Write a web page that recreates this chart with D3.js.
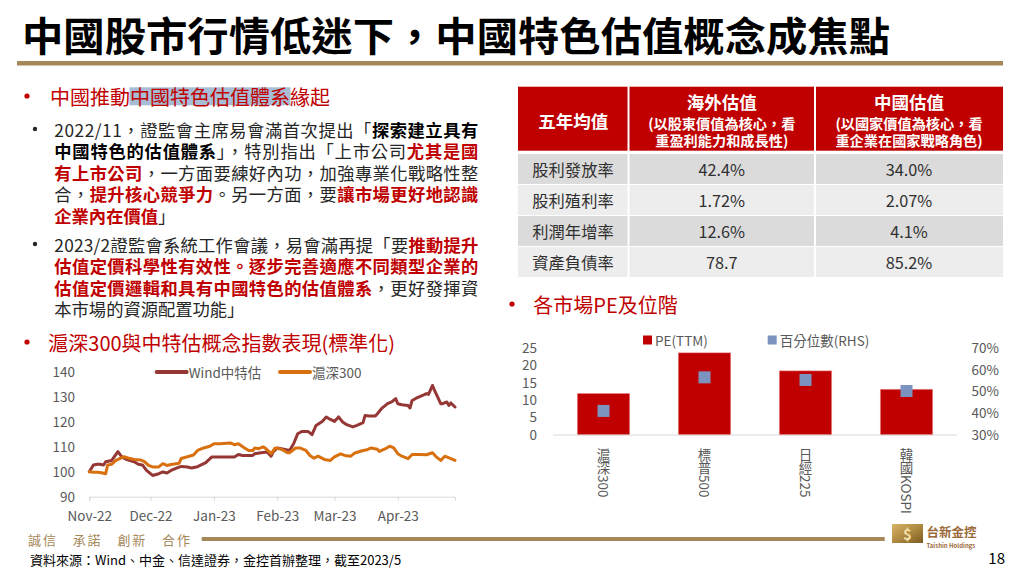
<!DOCTYPE html>
<html><head><meta charset="utf-8">
<script src="https://cdn.jsdelivr.net/npm/d3@7"></script>
<style>
body{margin:0;background:#fff}
svg{display:block}
text{font-family:"Noto Sans CJK TC","Noto Sans",sans-serif}
</style>
</head><body><svg id="c" width="1016" height="570"></svg>
<script>
// ---------------- DATA ----------------
const titleText = "中國股市行情低迷下，中國特色估值概念成焦點";

const windPoints = [
["2022-11-01",100],["2022-11-03",102.7],["2022-11-05",103],["2022-11-06",103],["2022-11-08",102.7],
["2022-11-09",104],["2022-11-12",104.5],["2022-11-15",108],["2022-11-17",105.8],["2022-11-19",105],
["2022-11-23",104],["2022-11-25",103],["2022-11-27",102.7],["2022-11-29",100.5],["2022-12-02",98.5],
["2022-12-05",99.2],["2022-12-07",99.9],["2022-12-09",99.5],["2022-12-11",100.5],["2022-12-14",101.5],
["2022-12-16",102.1],["2022-12-19",101.9],["2022-12-21",101.5],["2022-12-24",102],["2022-12-27",103.2],
["2022-12-28",103.6],["2022-12-31",105.9],["2023-01-02",105.9],["2023-01-06",105.9],["2023-01-11",105.9],
["2023-01-13",106.9],["2023-01-15",106.5],["2023-01-20",106.5],["2023-01-21",107.2],["2023-01-24",107.6],
["2023-01-27",107.9],["2023-01-29",106.2],["2023-01-30",107.9],["2023-02-01",109.5],["2023-02-03",109.2],
["2023-02-07",108.5],["2023-02-09",111.2],["2023-02-11",115.2],["2023-02-13",116.1],["2023-02-16",116.1],
["2023-02-18",114.8],["2023-02-20",118.5],["2023-02-23",120.1],["2023-02-25",121.9],["2023-02-27",120.9],
["2023-03-01",120.1],["2023-03-03",121.9],["2023-03-05",119.9],["2023-03-07",118.8],["2023-03-10",117.9],
["2023-03-12",118.5],["2023-03-15",119.6],["2023-03-16",122.5],["2023-03-18",122.3],["2023-03-21",122.3],
["2023-03-22",123.2],["2023-03-24",125.2],["2023-03-27",127.2],["2023-03-29",127.9],["2023-03-31",129.2],
["2023-04-01",127.2],["2023-04-03",126.8],["2023-04-06",126.5],["2023-04-07",125.5],["2023-04-08",128.5],
["2023-04-10",129.4],["2023-04-14",130.8],["2023-04-15",131.2],["2023-04-16",130.9],["2023-04-18",134.5],
["2023-04-19",132.5],["2023-04-22",127.2],["2023-04-23",127.2],["2023-04-25",127.9],["2023-04-26",126.5],
["2023-04-27",127.5],["2023-04-29",125.9]];

const hs300Points = [
["2022-11-01",100],["2022-11-03",99.8],["2022-11-05",99.8],["2022-11-07",99.6],["2022-11-09",99.2],
["2022-11-10",102.7],["2022-11-12",103],["2022-11-14",104.5],["2022-11-18",106],["2022-11-20",105.5],
["2022-11-23",104.9],["2022-11-26",104.7],["2022-11-28",104],["2022-11-30",102.5],["2022-12-02",101.9],
["2022-12-05",101.9],["2022-12-07",103.2],["2022-12-09",102.5],["2022-12-11",102.9],["2022-12-15",103.4],
["2022-12-16",105.3],["2022-12-19",106],["2022-12-22",106.7],["2022-12-24",108.5],["2022-12-27",109.5],
["2022-12-30",110.2],["2023-01-01",111.2],["2023-01-04",111.2],["2023-01-09",111.5],["2023-01-11",110.8],
["2023-01-13",111.2],["2023-01-16",109.5],["2023-01-18",108.5],["2023-01-20",108.5],["2023-01-21",109.5],
["2023-01-23",109.2],["2023-01-25",109.9],["2023-01-26",109.5],["2023-01-29",107.2],["2023-01-31",109.5],
["2023-02-03",109],["2023-02-06",107.6],["2023-02-07",107.6],["2023-02-10",109.5],["2023-02-12",109.5],
["2023-02-15",108.5],["2023-02-17",106.5],["2023-02-19",105.4],["2023-02-21",106.2],["2023-02-24",104.9],
["2023-02-27",104.5],["2023-03-01",105.9],["2023-03-04",107.1],["2023-03-06",106.5],["2023-03-09",106.2],
["2023-03-11",107.5],["2023-03-15",108.5],["2023-03-17",108.8],["2023-03-19",109.5],["2023-03-22",109],
["2023-03-23",108.1],["2023-03-26",109.2],["2023-03-28",110.2],["2023-03-30",109.5],["2023-04-01",107.2],
["2023-04-03",106.2],["2023-04-06",105.2],["2023-04-08",106.9],["2023-04-11",106.9],["2023-04-15",106.8],
["2023-04-18",107.6],["2023-04-20",105.8],["2023-04-22",104.5],["2023-04-24",106.2],["2023-04-27",105.2],
["2023-04-29",104.5]];
const lineSeriesNames = ["Wind中特估","滬深300"];
const lineYTicks = [90,100,110,120,130,140];

const marketCategories = ["滬深300","標普500","日經225","韓國KOSPI"];
const peValues = [12.0, 23.7, 18.5, 13.2];
const percentileValues = [0.411, 0.566, 0.554, 0.503];
const peTicks = [0,5,10,15,20,25];
const pctTicks = [0.3,0.4,0.5,0.6,0.7];
const barSeriesNames = ["PE(TTM)","百分位數(RHS)"];

const tableHeader = ["五年均值","海外估值","中國估值"];
const tableSub = [[],["(以股東價值為核心，看","重盈利能力和成長性)"],["(以國家價值為核心，看","重企業在國家戰略角色)"]];
const tableRowLabels = ["股利發放率","股利殖利率","利潤年增率","資產負債率"];
const overseasValues = ["42.4%","1.72%","12.6%","78.7"];
const chinaValues = ["34.0%","2.07%","4.1%","85.2%"];

// bullet texts: segments [text, style]  n=normal b=bold r=bold red
const bullet1 = [
 {j:true, s:[["2022/11，證監會主席易會滿首次提出「","n"],["探索建立具有","b"]]},
 {j:true, s:[["中國特色的估值體系","b"],["」，特別指出「上市公司","n"],["尤其是國","r"]]},
 {j:true, s:[["有上市公司","r"],["，一方面要練好內功，加強專業化戰略性整","n"]]},
 {j:true, s:[["合，","n"],["提升核心競爭力","r"],["。另一方面，要","n"],["讓市場更好地認識","r"]]},
 {j:false,s:[["企業內在價值","r"],["」","n"]]}
];
const bullet2 = [
 {j:true, s:[["2023/2證監會系統工作會議，易會滿再提「要","n"],["推動提升","r"]]},
 {j:true, s:[["估值定價科學性有效性。逐步完善適應不同類型企業的","r"]]},
 {j:true, s:[["估值定價邏輯和具有中國特色的估值體系","r"],["，更好發揮資","n"]]},
 {j:false,s:[["本市場的資源配置功能」","n"]]}
];

// ---------------- DRAW ----------------
const svg = d3.select("#c");
const RED = "#C00000", GOLD = "#A5885A", AXIS = "#595959", GRID = "#D9D9D9";

// title
svg.append("text").attr("x",22).attr("y",34).attr("dominant-baseline","central")
  .attr("font-size",40).attr("font-weight",700).attr("fill","#000")
  .attr("textLength",868).attr("lengthAdjust","spacingAndGlyphs").text(titleText);
svg.append("rect").attr("x",17).attr("y",61).attr("width",986).attr("height",4.5).attr("fill",GOLD);

// heading 1 with highlight
svg.append("rect").attr("x",129.5).attr("y",87.3).attr("width",161).attr("height",18).attr("fill","#A7BCD5");
function bulletDot(x,y,color,r){
  svg.append("circle").attr("cx",x).attr("cy",y).attr("r",r).attr("fill",color);
}
bulletDot(27,96,RED,2.6);
svg.append("text").attr("x",50).attr("y",96).attr("dominant-baseline","central").attr("font-size",20)
  .attr("fill",RED).text("中國推動中國特色估值體系緣起");

function drawPara(lines, y0, step){
  lines.forEach((ln,i)=>{
    const t = svg.append("text").attr("x",54.3).attr("y",y0+i*step).attr("dominant-baseline","central")
      .attr("font-size",17.3);
    if(ln.j) t.attr("textLength",424).attr("lengthAdjust","spacing");
    ln.s.forEach(([txt,st])=>{
      t.append("tspan").text(txt)
       .attr("fill", st==="r"?RED:(st==="b"?"#000":"#262626"))
       .attr("font-weight", st==="n"?400:700);
    });
  });
}
bulletDot(35,129,"#262626",2.2);
drawPara(bullet1,128.5,21.5);
bulletDot(35,244,"#262626",2.2);
drawPara(bullet2,243.5,21.5);

bulletDot(27,342,RED,2.6);
svg.append("text").attr("x",48.3).attr("y",342).attr("dominant-baseline","central").attr("font-size",20)
  .attr("fill",RED).text("滬深300與中特估概念指數表現(標準化)");

bulletDot(512,304,RED,2.6);
svg.append("text").attr("x",533.3).attr("y",304).attr("dominant-baseline","central").attr("font-size",20)
  .attr("fill",RED).text("各市場PE及位階");

// ---------------- TABLE ----------------
const colEdges = [518, 628.5, 815, 1003];
const hdrTop = 86.7, hdrBot = 150.7;
for(let c=0;c<3;c++){
  svg.append("rect").attr("x",colEdges[c]+(c?1:0)).attr("y",hdrTop)
    .attr("width",colEdges[c+1]-colEdges[c]-(c?1:0)-(c<2?1:0)).attr("height",hdrBot-hdrTop).attr("fill",RED);
}
const colCenter = c => (colEdges[c]+colEdges[c+1])/2;
svg.append("text").attr("x",colCenter(0)).attr("y",120).attr("text-anchor","middle").attr("dominant-baseline","central")
  .attr("font-size",17.5).attr("font-weight",700).attr("fill","#fff").text(tableHeader[0]);
[1,2].forEach(c=>{
  svg.append("text").attr("x",colCenter(c)).attr("y",101.7).attr("text-anchor","middle").attr("dominant-baseline","central")
    .attr("font-size",17.5).attr("font-weight",700).attr("fill","#fff").text(tableHeader[c]);
  tableSub[c].forEach((s,k)=>{
    svg.append("text").attr("x",colCenter(c)).attr("y",123.3+k*16.7).attr("text-anchor","middle").attr("dominant-baseline","central")
      .attr("font-size",14.2).attr("font-weight",700).attr("fill","#fff").text(s);
  });
});
const rowScale = d3.scaleBand().domain(tableRowLabels).range([154,277]).paddingInner(0.035);
tableRowLabels.forEach((lab,i)=>{
  const y = rowScale(lab), h = rowScale.bandwidth();
  for(let c=0;c<3;c++){
    svg.append("rect").attr("x",colEdges[c]+(c?1:0)).attr("y",y)
      .attr("width",colEdges[c+1]-colEdges[c]-(c?1:0)-(c<2?1:0)).attr("height",h)
      .attr("fill", i%2===0 ? "#DBDBDB" : "#EDEDED");
  }
  const cy = y+h/2;
  svg.append("text").attr("x",532.3).attr("y",cy).attr("dominant-baseline","central").attr("font-size",16.3)
    .attr("fill","#303030").text(lab);
  svg.append("text").attr("x",colCenter(1)).attr("y",cy).attr("text-anchor","middle").attr("dominant-baseline","central")
    .attr("font-size",16.3).attr("fill","#303030").text(overseasValues[i]);
  svg.append("text").attr("x",colCenter(2)).attr("y",cy).attr("text-anchor","middle").attr("dominant-baseline","central")
    .attr("font-size",16.3).attr("fill","#303030").text(chinaValues[i]);
});

// ---------------- LINE CHART ----------------
const parse = d3.timeParse("%Y-%m-%d");
const wind = windPoints.map(d=>({date:parse(d[0]),v:d[1]}));
const hs = hs300Points.map(d=>({date:parse(d[0]),v:d[1]}));
const xL = d3.scaleTime().domain([wind[0].date, wind[wind.length-1].date]).range([89.3,455]);
const yL = d3.scaleLinear().domain([90,140]).range([496.7,371.7]);
const gx = svg.append("g").attr("transform",`translate(0,${yL(90)})`)
  .call(d3.axisBottom(xL).tickValues(d3.timeMonth.range(parse("2022-11-01"),parse("2023-04-02")))
        .tickFormat(d3.timeFormat("%b-%y")).tickSizeOuter(0).tickSize(4));
gx.select(".domain").attr("stroke",GRID);
gx.selectAll(".tick line").attr("stroke",GRID);
gx.selectAll(".tick text").attr("y",19.5).attr("dy","0.35em").attr("font-size",13.5).attr("fill",AXIS)
  .attr("font-family",'"Noto Sans CJK TC",sans-serif');
const gy = svg.append("g").attr("transform","translate(75,0)")
  .call(d3.axisLeft(yL).tickValues(lineYTicks).tickSize(0).tickPadding(0));
gy.select(".domain").remove();
gy.selectAll(".tick text").attr("font-size",13.5).attr("fill",AXIS).attr("font-family",'"Noto Sans CJK TC",sans-serif');

const lineGen = d3.line().x(d=>xL(d.date)).y(d=>yL(d.v));
const lineColors = ["#953735","#D9700F"];
[wind,hs].forEach((s,i)=>{
  svg.append("path").datum(s).attr("d",lineGen).attr("fill","none").attr("stroke",lineColors[i])
    .attr("stroke-width",3).attr("stroke-linejoin","round").attr("stroke-linecap","round");
});
// legend
const legX = [156.7, 280];
lineSeriesNames.forEach((n,i)=>{
  svg.append("line").attr("x1",legX[i]).attr("x2",legX[i]+30).attr("y1",372).attr("y2",372)
    .attr("stroke",lineColors[i]).attr("stroke-width",4).attr("stroke-linecap","round");
  svg.append("text").attr("x",legX[i]+32).attr("y",372).attr("dominant-baseline","central")
    .attr("font-size",13.5).attr("fill",AXIS).text(n);
});

// ---------------- BAR CHART ----------------
const xB = d3.scaleBand().domain(marketCategories).range([553,957]).paddingInner(0.48).paddingOuter(0.24);
const yB = d3.scaleLinear().domain([0,25]).range([435,348.3]);
const yR = d3.scaleLinear().domain([0.3,0.7]).range([435,348.3]);
svg.selectAll(".bar").data(marketCategories).enter().append("rect")
  .attr("x",d=>xB(d)).attr("width",xB.bandwidth())
  .attr("y",(d,i)=>yB(peValues[i])).attr("height",(d,i)=>yB(0)-yB(peValues[i]))
  .attr("fill",RED).attr("stroke","#F2A0A0").attr("stroke-width",0.6);
svg.append("line").attr("x1",553).attr("x2",957).attr("y1",yB(0)).attr("y2",yB(0)).attr("stroke",GRID);
const mk = 12;
svg.selectAll(".mk").data(marketCategories).enter().append("rect")
  .attr("x",d=>xB(d)+xB.bandwidth()/2-mk/2).attr("y",(d,i)=>yR(percentileValues[i])-mk/2)
  .attr("width",mk).attr("height",mk).attr("fill","#7C93BF");
const gbl = svg.append("g").attr("transform","translate(537,0)")
  .call(d3.axisLeft(yB).tickValues(peTicks).tickSize(0).tickPadding(0));
gbl.select(".domain").remove();
gbl.selectAll(".tick text").attr("font-size",13.5).attr("fill",AXIS).attr("font-family",'"Noto Sans CJK TC",sans-serif');
const gbr = svg.append("g").attr("transform","translate(971.5,0)")
  .call(d3.axisRight(yR).tickValues(pctTicks).tickFormat(d3.format(".0%")).tickSize(0).tickPadding(0));
gbr.select(".domain").remove();
gbr.selectAll(".tick text").attr("font-size",13.5).attr("fill",AXIS).attr("font-family",'"Noto Sans CJK TC",sans-serif');
marketCategories.forEach(c=>{
  svg.append("text").attr("x",xB(c)+xB.bandwidth()/2).attr("y",448)
    .style("writing-mode","vertical-rl").attr("font-size",13.5).attr("fill",AXIS).text(c);
});
// bar legend
const bLegX = [643, 767.7];
const bLegCol = [RED, "#7C93BF"];
barSeriesNames.forEach((n,i)=>{
  svg.append("rect").attr("x",bLegX[i]).attr("y",335.5).attr("width",9).attr("height",9).attr("fill",bLegCol[i]);
  svg.append("text").attr("x",bLegX[i]+12).attr("y",340).attr("dominant-baseline","central")
    .attr("font-size",13.5).attr("fill",AXIS).text(n);
});

// ---------------- FOOTER ----------------
svg.append("text").attr("x",28).attr("y",539).attr("dominant-baseline","central").attr("font-size",13)
  .attr("fill",GOLD).attr("textLength",162).attr("lengthAdjust","spacing").text("誠信　承諾　創新　合作");
svg.append("rect").attr("x",201.7).attr("y",537).attr("width",683).attr("height",4).attr("fill",GOLD);
svg.append("text").attr("x",30).attr("y",559.5).attr("dominant-baseline","central").attr("font-size",13)
  .attr("fill","#000").text("資料來源：Wind、中金、信達證券，金控首辦整理，截至2023/5");
// logo
const defs = svg.append("defs");
const lg = defs.append("linearGradient").attr("id","gold").attr("x1","0").attr("y1","0").attr("x2","1").attr("y2","1");
lg.append("stop").attr("offset","0").attr("stop-color","#D8B467");
lg.append("stop").attr("offset","0.5").attr("stop-color","#B08A42");
lg.append("stop").attr("offset","1").attr("stop-color","#7A5A22");
svg.append("rect").attr("x",892).attr("y",524).attr("width",31).attr("height",19).attr("fill","url(#gold)");
svg.append("text").attr("x",907.5).attr("y",533.5).attr("text-anchor","middle").attr("dominant-baseline","central")
  .attr("font-size",15).attr("font-weight",700).attr("fill","#F3DFA8").attr("font-family","Liberation Serif").text("$");
svg.append("text").attr("x",926.5).attr("y",531.5).attr("dominant-baseline","central").attr("font-size",12.5)
  .attr("font-weight",700).attr("fill","#9A6A3A").text("台新金控");
svg.append("text").attr("x",926.5).attr("y",545.5).attr("dominant-baseline","central").attr("font-size",6)
  .attr("font-weight",700).attr("fill","#9A6A3A").attr("font-family","Liberation Sans").text("Taishin Holdings");
svg.append("text").attr("x",1005).attr("y",557.5).attr("text-anchor","end").attr("dominant-baseline","central")
  .attr("font-size",15).attr("fill","#000").attr("font-family","Liberation Serif").text("18");
</script></body></html>
